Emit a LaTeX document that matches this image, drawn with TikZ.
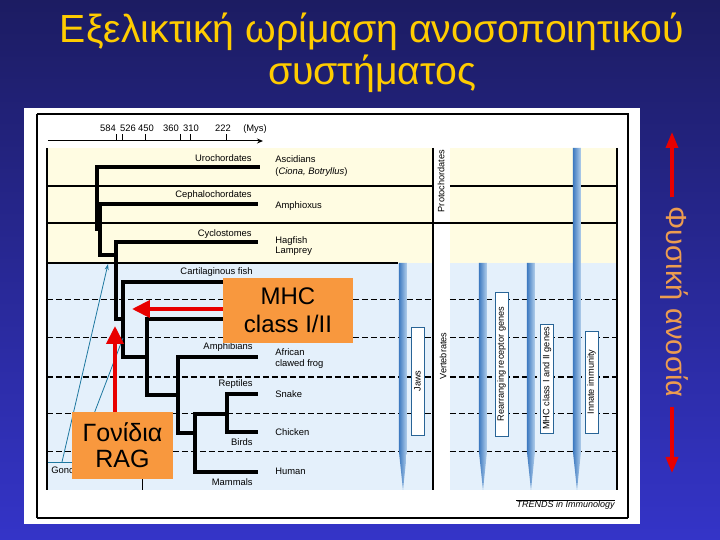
\documentclass[tikz,border=0pt]{standalone}
\usepackage{fontspec}
\setmainfont{Liberation Sans}
\usetikzlibrary{arrows.meta,positioning,calc}
\definecolor{bgtop}{RGB}{28,28,98}
\definecolor{bgbot}{RGB}{52,52,200}
\definecolor{titleyellow}{RGB}{255,204,0}
\definecolor{bandyellow}{RGB}{255,252,226}
\definecolor{bandblue}{RGB}{228,240,251}
\definecolor{barblue}{RGB}{62,122,192}
\definecolor{barlight}{RGB}{180,208,236}
\definecolor{boxorange}{RGB}{248,152,62}
\definecolor{boxedge}{RGB}{40,100,150}
\definecolor{tealline}{RGB}{30,120,160}
\definecolor{arrowred}{RGB}{232,0,0}
\definecolor{sideorange}{RGB}{236,156,80}
\newcommand \mybar[2]
{
\shade[left color=barblue, right color=barlight] (#1-4,#2) -- (#1+4,#2) -- (#1+4,452) -- (#1,490) -- (#1-4,452) -- cycle;
}
\begin{document}
\begin{tikzpicture}[x=0.5pt, y=-0.5pt,
  tree/.style={line width=2pt},
  clade/.style={font=\fontsize{4.7}{5.5}\selectfont, inner sep=0pt, anchor=base east},
  species/.style={font=\fontsize{4.7}{5.5}\selectfont, inner sep=0pt, anchor=base west},
  ticklbl/.style={font=\fontsize{4.7}{5.5}\selectfont, inner sep=0pt, anchor=base},
  sepdash/.style={line width=0.5pt, dash pattern=on 3pt off 1.5pt},
  lblbox/.style={draw=boxedge, fill=white, line width=0.4pt, rotate=90, minimum height=6.5pt, inner sep=0pt, font=\fontsize{4.6}{5}\selectfont},
  vlbl/.style={rotate=90, inner sep=0pt, font=\fontsize{4.6}{5}\selectfont},
  callout/.style={fill=boxorange, inner sep=0pt, align=center},
  bigred/.style={arrowred, line width=2pt, -{Triangle[width=8.5pt,length=9pt]}},
  sidered/.style={arrowred, line width=1.6pt, -{Triangle[width=6pt,length=8pt]}},
  cyanline/.style={tealline, line width=0.4pt}
]
% background and panel
\shade[top color=bgtop, bottom color=bgbot] (0,0) rectangle (720,540);
\useasboundingbox (0,0) rectangle (720,540);
\fill[white] (24,108) rectangle (640,524);
\draw[line width=0.6pt] (37,114) -- (628,114) -- (628,518);
\draw[line width=0.6pt] (37,114) -- (37,518);
\draw[line width=1.3pt] (37,518) -- (628,518);
% title
\node[anchor=base, inner sep=0pt, text=titleyellow, font=\fontsize{19.6}{20}\selectfont] (title1) at (372,43) {Εξελικτική ωρίμαση ανοσοποιητικού};
\node[anchor=base, inner sep=0pt, text=titleyellow, font=\fontsize{19.6}{20}\selectfont] (title2) at (372,85) {συστήματος};
% time axis
\draw[line width=0.5pt, -{Stealth[length=3pt,width=2.5pt]}] (48,141) -- (263,141);
\foreach \tx in {117,123,146,181,191,227}
  \draw[line width=0.5pt] (\tx,141) -- (\tx,134);
\node[ticklbl] (t584) at (108,132) {584};
\node[ticklbl] (t526) at (128,132) {526};
\node[ticklbl] (t450) at (146,132) {450};
\node[ticklbl] (t360) at (171,132) {360};
\node[ticklbl] (t310) at (191,132) {310};
\node[ticklbl] (t222) at (223,132) {222};
\node[ticklbl] (tmys) at (255,132) {(Mys)};
% bands
\fill[bandyellow] (47,148) rectangle (433,263);
\fill[bandyellow] (450,148) rectangle (617,263);
\fill[bandblue] (47,263) rectangle (433,490);
\fill[bandblue] (450,263) rectangle (617,490);
\draw[line width=0.6pt] (47,148) -- (47,490);
\draw[line width=0.6pt] (433,148) -- (433,490);
\draw[line width=0.6pt] (617,148) -- (617,490);
\draw[line width=0.6pt] (47,186) -- (433,186) (450,186) -- (617,186);
\draw[line width=0.6pt] (47,223) -- (617,223);
\draw[line width=0.6pt] (47,263) -- (398,263);
\foreach \dy in {300,338,414,452}
  \draw[sepdash] (47,\dy) -- (433,\dy) (450,\dy) -- (617,\dy);
\draw[sepdash, line width=0.9pt] (47,377) -- (433,377) (450,377) -- (617,377);
% columns
\mybar{403}{263}
\mybar{483}{263}
\mybar{531}{263}
\mybar{577}{148}
\node[lblbox, minimum width=54pt] (jaws) at (417.5,381) {Jaws};
\node[lblbox, minimum width=72pt] (rearr) at (501.5,364) {Rearranging receptor genes};
\node[lblbox, minimum width=54.5pt] (mhcgenes) at (547,378.5) {MHC class I and II genes};
\node[lblbox, minimum width=51pt] (innate) at (591.5,382) {Innate immunity};
\node[vlbl] (proto) at (441,181) {Protochordates};
\node[vlbl] (vert) at (443,356) {Vertebrates};
% tree
\draw[tree] (260,167) -| (97,229) -- (100,229);
\draw[tree] (258,204) -| (100,255) -- (116,255);
\draw[tree] (258,242) -| (116,319) -- (123,319);
\draw[tree] (258,282) -| (123,357) -- (147,357);
\draw[tree] (258,319) -| (147,395) -- (178,395);
\draw[tree] (258,357) -| (178,433) -- (195,433);
\draw[tree] (258,472) -| (195,414) -- (227,414);
\draw[tree] (258,394) -| (227,432) -- (258,432);
% clade labels
\node[clade] (uro) at (252,162) {Urochordates};
\node[clade] (ceph) at (252,198) {Cephalochordates};
\node[clade] (cyclo) at (252,237) {Cyclostomes};
\node[clade] (cart) at (253,275) {Cartilaginous fish};
\node[clade] (amph) at (253,350) {Amphibians};
\node[clade] (rept) at (253,387) {Reptiles};
\node[clade] (birds) at (253,446) {Birds};
\node[clade] (mamm) at (253,486) {Mammals};
% species
\node[species] (asc) at (275,163) {Ascidians};
\node[species] (ciona) at (275,175) {(\textit{Ciona, Botryllus})};
\node[species] (amphx) at (275,209) {Amphioxus};
\node[species] (hag) at (275,244) {Hagfish};
\node[species] (lamp) at (275,254) {Lamprey};
\node[species] (afr) at (275,356) {African};
\node[species] (claw) at (275,367) {clawed frog};
\node[species] (snake) at (275,398) {Snake};
\node[species] (chick) at (275,436) {Chicken};
\node[species] (human) at (275,475) {Human};
% teal lines
\draw[cyanline] (48,462) -- (72,462);
\node[species] (gonc) at (51,474) {Gonc};
\draw[line width=0.4pt] (142,470) -- (142,490);
\coordinate (gonone) at (62,462);
\coordinate (gononetip) at (108,264);
\draw[cyanline, -{Stealth[length=3pt,width=2pt]}] (gonone) -- (gononetip);
\coordinate (gontwo) at (84,440);
\coordinate (gontwotip) at (123,338);
\draw[cyanline] (gontwo) -- (gontwotip);
% callouts
\node[callout, minimum width=65pt, minimum height=32.5pt, font=\fontsize{12}{14}\selectfont] (mhc) at (288,310.5) {MHC\\class I/II};
\node[callout, minimum width=50.5pt, minimum height=33.5pt, font=\fontsize{12.5}{13}\selectfont] (rag) at (122.5,445.5) {Γονίδια\\RAG};
\coordinate (mhctip) at (132,309);
\draw[bigred] (mhc.west |- mhctip) -- (mhctip);
\coordinate (ragtip) at (115,326);
\draw[bigred] (rag.north -| ragtip) -- (ragtip);
% trends
\node[anchor=base east, inner sep=0pt, font=\fontsize{4.5}{5}\selectfont\itshape] (trends) at (615,508) {TRENDS in Immunology};
\draw[line width=0.3pt] ([yshift=0.6pt]trends.north west) -- ([yshift=0.6pt]trends.north east);
% natural immunity side label
\node[rotate=-90, inner xsep=4.5pt, inner ysep=0pt, text=sideorange, font=\fontsize{14.5}{15}\selectfont] (natimm) at (674,302) {Φυσική ανοσία};
\coordinate (imtop) at (672,132);
\coordinate (imbot) at (672,473);
\draw[sidered] (natimm.west -| imtop) -- (imtop);
\draw[sidered] (natimm.east -| imbot) -- (imbot);
\end{tikzpicture}
\end{document}
